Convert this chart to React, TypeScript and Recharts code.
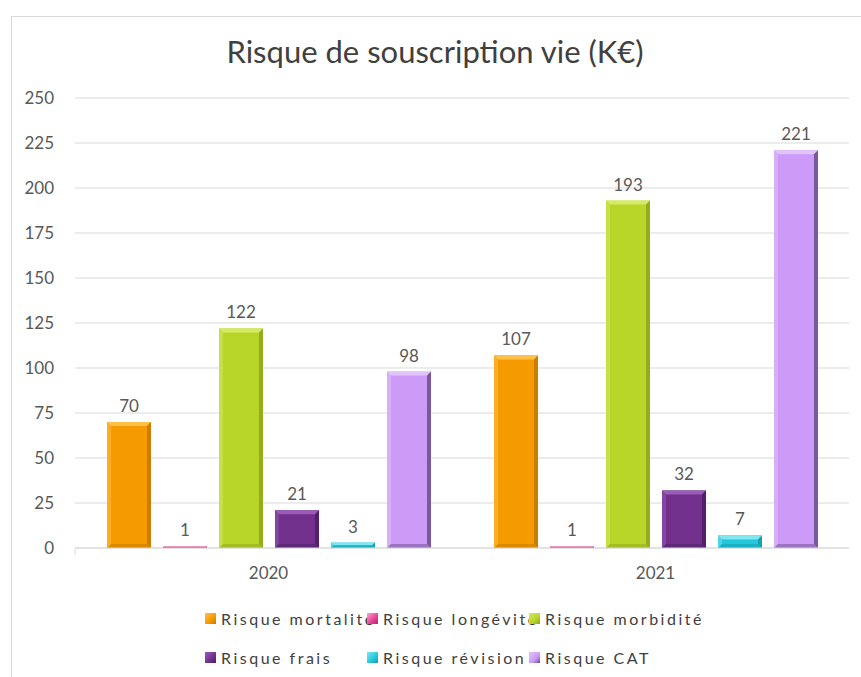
import { Bar, BarChart, CartesianGrid, LabelList, XAxis, YAxis } from "recharts";

const categories = ["2020", "2021"];
const mortalite = [70, 107];
const longevite = [1, 1];
const morbidite = [122, 193];
const frais = [21, 32];
const revision = [3, 7];
const cat = [98, 221];
const yTicks = [0, 25, 50, 75, 100, 125, 150, 175, 200, 225, 250];
const edgeTicks = [0, 1, 2];

const series = [
  { key: "mortalite", name: "Risque mortalité", base: "#F59B00", light: "#FFC04A", dark: "#C27800" },
  { key: "longevite", name: "Risque longévité", base: "#E8409A", light: "#F6A8CC", dark: "#B02868" },
  { key: "morbidite", name: "Risque morbidité", base: "#B8D52A", light: "#D5EA66", dark: "#8DA61A" },
  { key: "frais", name: "Risque frais", base: "#70308C", light: "#9A5CB8", dark: "#4C1D64" },
  { key: "revision", name: "Risque révision", base: "#22C7DB", light: "#80E6F0", dark: "#149AAA" },
  { key: "cat", name: "Risque CAT", base: "#CC9AF7", light: "#E2C4FB", dark: "#6C4C8A" },
];

const data = categories.map((year, i) => ({
  year,
  mortalite: mortalite[i],
  longevite: longevite[i],
  morbidite: morbidite[i],
  frais: frais[i],
  revision: revision[i],
  cat: cat[i],
}));

const FONT = "Lato, 'Open Sans', sans-serif";

function BevelBar(props: any) {
  const { x, y, width: w, height: h, base, light, dark } = props;
  if (!h || h <= 0) return null;
  const b = Math.min(4, h / 2, w / 2);
  return (
    <g>
      <rect x={x} y={y} width={w} height={h} fill={base} />
      <polygon points={`${x},${y} ${x + w},${y} ${x + w - b},${y + b} ${x + b},${y + b}`} fill={light} />
      <polygon points={`${x},${y} ${x + b},${y + b} ${x + b},${y + h - b} ${x},${y + h}`} fill={light} opacity={0.5} />
      <polygon points={`${x + w},${y} ${x + w},${y + h} ${x + w - b},${y + h - b} ${x + w - b},${y + b}`} fill={dark} opacity={0.85} />
      <polygon points={`${x},${y + h} ${x + w},${y + h} ${x + w - b},${y + h - b} ${x + b},${y + h - b}`} fill={dark} opacity={0.5} />
    </g>
  );
}

function LegendBox() {
  const rows = [series.slice(0, 3), series.slice(3)];
  return (
    <div style={{ position: "absolute", left: 205, top: 608, fontFamily: FONT }}>
      {rows.map((row, r) => (
        <div key={r} style={{ display: "flex", height: 39 }}>
          {row.map((s) => (
            <div
              key={s.key}
              style={{ width: 162, flex: "0 0 162px", display: "flex", alignItems: "center", height: 20, whiteSpace: "nowrap" }}
            >
              <span
                style={{
                  width: 11,
                  height: 11,
                  flex: "0 0 11px",
                  background: `linear-gradient(135deg, ${s.light}, ${s.base} 60%, ${s.dark})`,
                  marginRight: 5,
                  position: "relative",
                  zIndex: 1,
                }}
              />
              <span style={{ fontSize: 16, color: "#404040", letterSpacing: 2.5 }}>{s.name}</span>
            </div>
          ))}
        </div>
      ))}
    </div>
  );
}

export default function App() {
  return (
    <div style={{ position: "fixed", left: 0, top: 0, width: 861, height: 677, background: "#fff", overflow: "hidden" }}>
      <div style={{ position: "absolute", left: 11, top: 16, width: 900, height: 700, border: "1px solid #d9d9d9" }} />
      <div
        style={{
          position: "absolute",
          left: 0,
          width: 870,
          top: 32,
          textAlign: "center",
          fontFamily: FONT,
          fontSize: 31,
          color: "#404040",
        }}
      >
        Risque de souscription vie (K€)
      </div>
      <div style={{ position: "absolute", left: 0, top: 0 }}>
        <BarChart
          width={861}
          height={677}
          data={data}
          margin={{ top: 98, right: 12, left: 25, bottom: 98 }}
          barCategoryGap={31}
          barGap={12}
        >
          <CartesianGrid stroke="#d9d9d9" vertical={false} />
          <XAxis
            dataKey="year"
            axisLine={{ stroke: "#d9d9d9" }}
            tickLine={false}
            tickSize={0}
            tickMargin={19}
            height={1}
            tick={{ fill: "#595959", fontSize: 17, fontFamily: FONT }}
          />
          <XAxis
            xAxisId="edge"
            type="number"
            domain={[0, 2]}
            ticks={edgeTicks}
            tick={() => <g />}
            axisLine={false}
            tickLine={{ stroke: "#d9d9d9" }}
            tickSize={6}
            height={30}
          />
          <YAxis
            domain={[0, 250]}
            ticks={yTicks}
            axisLine={false}
            tickLine={false}
            tickSize={0}
            tickMargin={21}
            width={50}
            interval={0}
            tick={{ fill: "#595959", fontSize: 17, fontFamily: FONT }}
          />
          {series.map((s) => (
            <Bar
              key={s.key}
              dataKey={s.key}
              name={s.name}
              fill={s.base}
              barSize={44}
              isAnimationActive={false}
              shape={(p: any) => <BevelBar {...p} base={s.base} light={s.light} dark={s.dark} />}
            >
              <LabelList dataKey={s.key} position="top" offset={10} fill="#595959" fontSize={17} fontFamily={FONT} />
            </Bar>
          ))}
        </BarChart>
      </div>
      <LegendBox />
    </div>
  );
}
